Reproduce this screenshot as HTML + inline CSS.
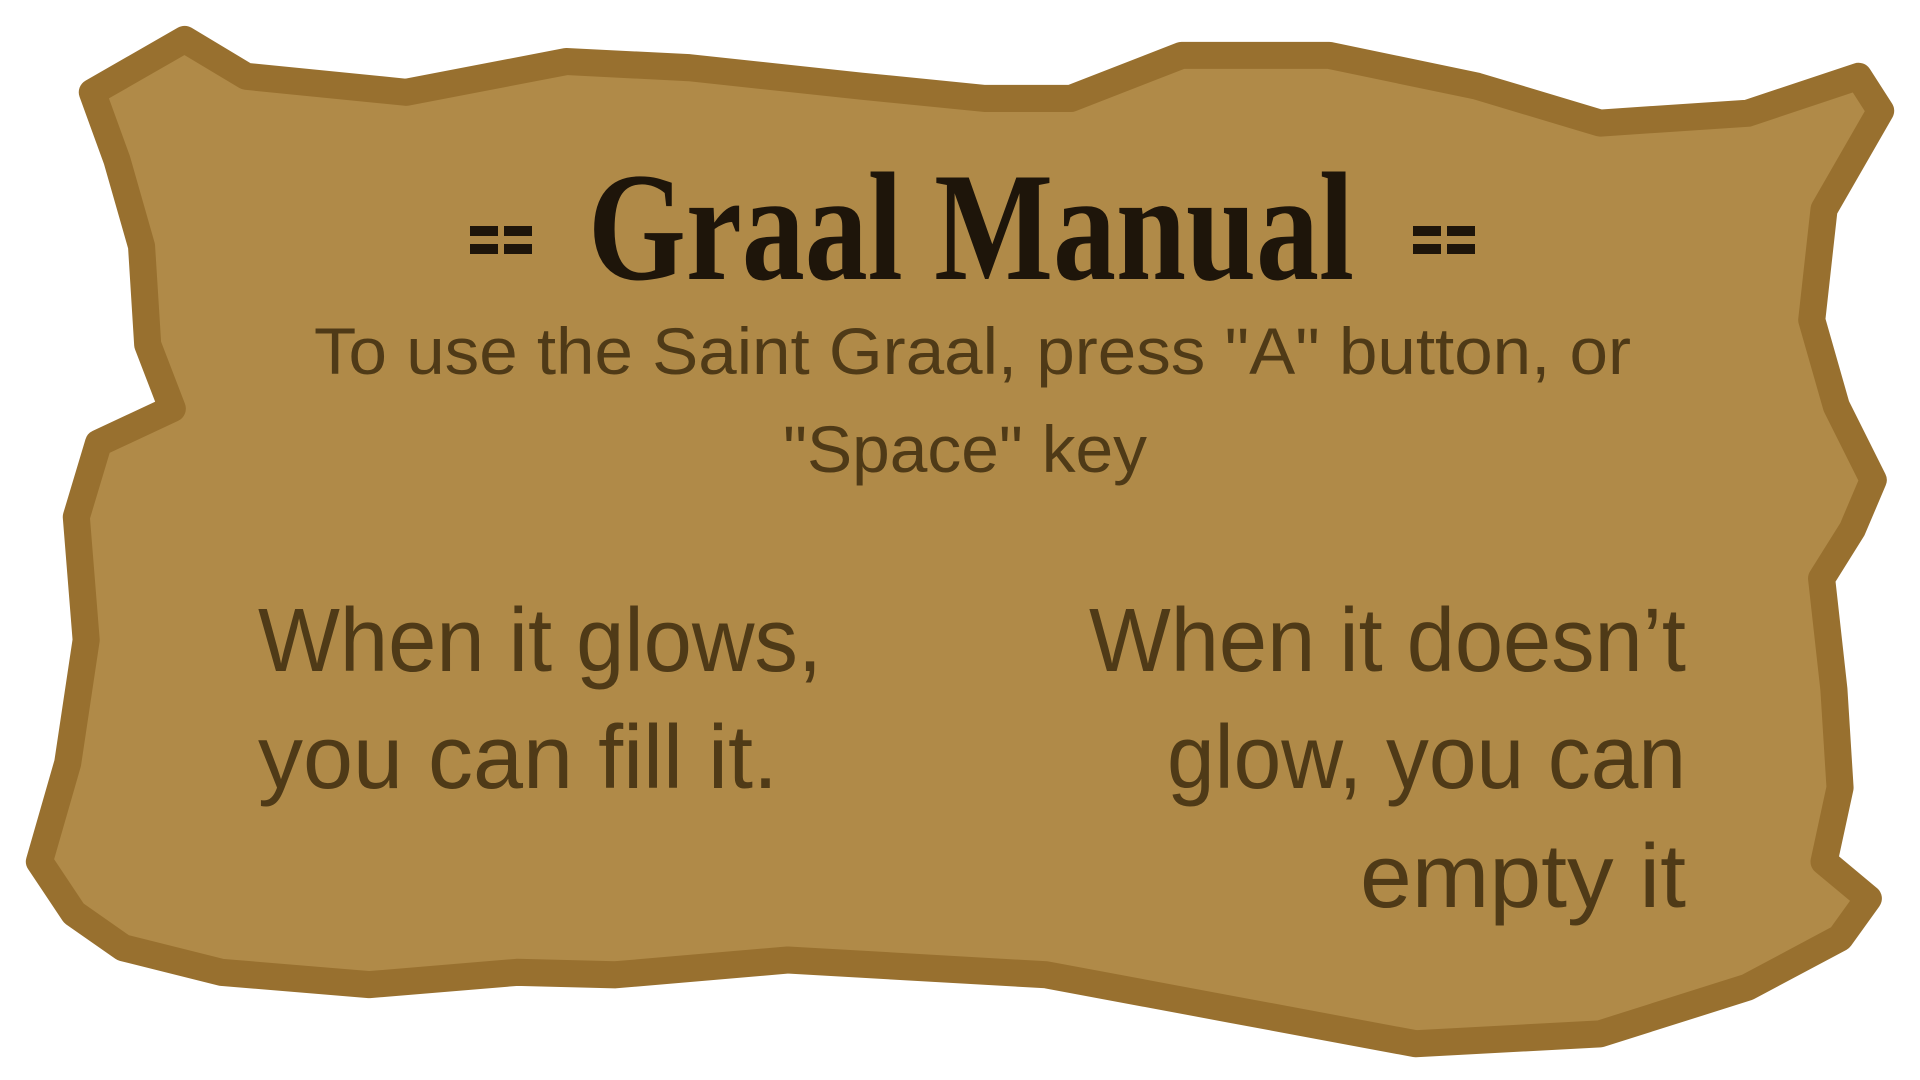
<!DOCTYPE html>
<html>
<head>
<meta charset="utf-8">
<style>
  html,body{margin:0;padding:0;background:#ffffff;width:1920px;height:1080px;overflow:hidden;}
  svg{display:block;}
</style>
</head>
<body>
<svg width="1920" height="1080" viewBox="0 0 1920 1080" xmlns="http://www.w3.org/2000/svg">
  <g transform="scale(1.2308)">
    <path
      d="M75,75 L150,32 L200,62 L330,75 L460,50 L560,55 L700,70 L800,80 L870,80 L960,45 L1080,45 L1200,70 L1300,100 L1420,92 L1510,62 L1528,90 L1482,170 L1472,260 L1492,330 L1522,390 L1505,430 L1480,470 L1490,560 L1495,640 L1482,700 L1518,730 L1495,762 L1420,802 L1300,840 L1150,848 L1000,820 L850,792 L640,780 L500,792 L420,790 L300,800 L180,790 L100,770 L60,742 L32,700 L55,620 L70,520 L62,420 L80,360 L140,332 L120,280 L115,200 L95,130 Z"
      fill="#b08a48" stroke="#98702f" stroke-width="22" stroke-linejoin="round"/>
  </g>
  <g fill="#1e150a">
    <rect x="470" y="226" width="28" height="10"/><rect x="504" y="226" width="28" height="10"/>
    <rect x="470" y="244" width="28" height="10"/><rect x="504" y="244" width="28" height="10"/>
  </g>
  <g fill="#1e150a">
    <rect x="1413" y="226" width="28" height="10"/><rect x="1447" y="226" width="28" height="10"/>
    <rect x="1413" y="244" width="28" height="10"/><rect x="1447" y="244" width="28" height="10"/>
  </g>
  <text x="588" y="279" textLength="766" lengthAdjust="spacingAndGlyphs"
    font-family="Liberation Serif, serif" font-weight="bold" font-size="155" fill="#1e150a">Graal Manual</text>
  <text x="314" y="374" textLength="1317" lengthAdjust="spacingAndGlyphs"
    font-family="Liberation Sans, sans-serif" font-size="66" fill="#4f3a17">To use the Saint Graal, press "A" button, or</text>
  <text x="783" y="472" textLength="364" lengthAdjust="spacingAndGlyphs"
    font-family="Liberation Sans, sans-serif" font-size="66" fill="#4f3a17">"Space" key</text>
  <text x="258" y="671" textLength="564" lengthAdjust="spacingAndGlyphs"
    font-family="Liberation Sans, sans-serif" font-size="90" fill="#4f3a17">When it glows,</text>
  <text x="258" y="788" textLength="520" lengthAdjust="spacingAndGlyphs"
    font-family="Liberation Sans, sans-serif" font-size="90" fill="#4f3a17">you can fill it.</text>
  <text x="1089" y="671" textLength="597" lengthAdjust="spacingAndGlyphs"
    font-family="Liberation Sans, sans-serif" font-size="90" fill="#4f3a17">When it doesn’t</text>
  <text x="1167" y="788" textLength="519" lengthAdjust="spacingAndGlyphs"
    font-family="Liberation Sans, sans-serif" font-size="90" fill="#4f3a17">glow, you can</text>
  <text x="1360" y="907" textLength="326" lengthAdjust="spacingAndGlyphs"
    font-family="Liberation Sans, sans-serif" font-size="90" fill="#4f3a17">empty it</text>
</svg>
</body>
</html>
